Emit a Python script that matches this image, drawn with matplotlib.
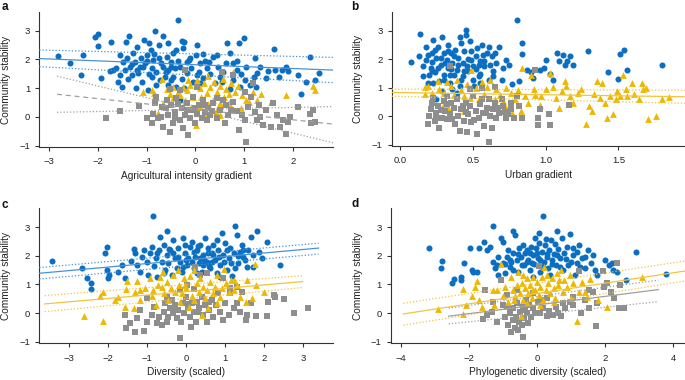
import matplotlib
matplotlib.use("Agg")
import matplotlib.pyplot as plt

plt.rcParams['font.family'] = ['Liberation Sans', 'DejaVu Sans']

BLUE = '#0A6FC2'
YEL = '#EDB900'
GRAY = '#8E8E8E'
BLUE_L = '#4A92D6'
YEL_L = '#F2C440'
GRAY_L = '#A0A0A0'

# ---------------- Panel a: Agricultural intensity gradient ----------------
a_blue = [(-2.83,2.12),(-2.58,1.89),(-2.30,2.15),(-2.35,1.46),(-2.06,2.77),(-1.99,2.88),(-1.99,2.47),(-1.93,1.34),(-1.74,2.62),(-1.43,2.62),
          (-1.36,2.81),(-1.06,2.68),(-0.82,3.00),(-0.66,2.81),(-0.35,3.37),(-0.28,2.65),(-0.23,2.62),(0.03,2.50),(0.66,2.58),(0.90,2.58),
          (1.00,2.73),(1.61,2.35),(2.35,2.10),(2.54,1.52),(2.45,1.28),(2.28,1.23),(2.18,0.80),(2.10,1.46),(1.91,1.61),(1.86,1.75),
          (1.77,1.65),(1.72,1.40),(1.63,1.65),(1.50,1.61),(1.46,1.34),(1.33,1.75),(1.22,2.04),(1.26,1.54),(1.20,1.38),(1.25,1.03),
          (1.12,1.11),(1.02,1.28),(0.92,1.03),(0.85,1.65),(0.78,1.86),(0.72,2.23),(0.64,1.86),(0.57,1.57),(0.54,1.23),(0.47,1.75),
          (0.44,2.15),(0.37,2.10),(0.29,1.92),(0.23,1.69),(0.16,2.19),(0.09,1.86),(0.08,1.57),(0.01,2.15),(-0.08,1.69),(-0.13,1.98),
          (-0.18,1.52),(-0.28,1.31),(-0.32,0.59),(-0.39,1.05),(-0.45,1.40),(-0.56,1.11),(-0.56,1.63),(-0.51,1.92),(-0.45,2.21),(-0.39,2.33),
          (-0.59,2.10),(-0.67,1.75),(-0.73,1.28),(-0.80,1.57),(-0.86,1.98),(-0.92,2.33),(-1.00,2.15),(-1.07,1.75),(-1.10,1.23),(-1.17,1.52),
          (-1.24,1.92),(-1.28,2.21),(-1.34,1.75),(-1.39,1.31),(-1.45,1.63),(-1.48,1.92),(-1.54,1.46),(-1.62,1.69),(-1.69,1.63),(-1.75,1.61),
          (-1.55,2.15),(-1.51,1.03),(-1.21,1.00),(-0.97,0.94),(-0.74,2.50),(-0.56,2.56),(-0.95,2.58),(-0.80,1.11),(-0.32,1.75),(-0.49,1.28),
          (-0.90,1.38),(-1.31,1.46),(-1.14,1.75),(-1.04,1.86),(-0.88,1.69),(-0.70,1.86),(-0.62,1.40),(-0.42,1.69),(-0.18,1.92),(-0.04,1.23),
          (0.03,1.46),(0.16,1.34),(0.31,1.49),(0.40,1.19),(0.50,1.40),(0.71,0.96),(0.78,1.28),(0.93,1.49),(1.05,1.75),(0.86,1.96),
          (0.09,1.17),(-0.23,0.99),(-1.19,2.44),(-1.12,2.04),(-1.41,2.04),(-1.58,1.23),(-1.00,1.95),(-0.75,2.05),(-0.60,1.55),(-1.20,1.65),
          (-0.95,1.50),(-0.35,1.95),(-0.10,2.05),(0.20,1.95),(-1.30,1.85),(-0.85,2.20),(-0.50,1.75),(-0.25,2.40)]
a_yel = [(-1.07,0.88),(-0.90,0.94),(-0.85,0.84),(-0.69,1.31),(-0.59,0.96),(-0.52,0.80),(-0.45,1.05),(-0.35,0.88),(-0.26,1.03),(-0.18,0.94),
         (-0.10,1.11),(-0.04,0.70),(0.04,1.28),(0.09,0.99),(0.18,1.17),(0.23,0.82),(0.30,1.05),(0.38,1.23),(0.45,0.88),(0.50,1.07),
         (0.59,0.70),(0.64,0.96),(0.70,0.80),(0.74,1.17),(0.81,0.88),(0.88,1.07),(0.95,0.76),(1.04,0.59),(1.11,0.53),(1.19,0.88),
         (1.26,0.59),(1.34,0.80),(1.55,0.53),(1.87,0.76),(2.42,1.07),(2.45,0.94),(0.36,0.59),(0.43,0.18),(0.50,0.07),(0.22,0.12),
         (0.01,-0.28),(-0.26,0.38),(-0.59,0.18),(-0.76,0.15),(-0.66,0.47),(0.09,0.36),(0.26,0.45),(0.93,0.30),(0.70,0.50),(-0.21,0.59),
         (-0.08,0.36),(-0.45,0.65),(0.12,0.70),(-0.15,1.28),(0.26,1.42),(0.57,1.31),(0.78,1.57),(-0.32,0.76),(0.50,0.47),(0.78,0.24)]
a_gray = [(-1.84,-0.03),(-1.54,0.21),(-1.15,0.38),(-1.00,-0.05),(-0.90,-0.22),(-0.86,0.12),(-0.83,0.47),(-0.80,0.70),(-0.76,-0.05),(-0.69,0.36),
          (-0.66,-0.34),(-0.59,0.59),(-0.56,0.07),(-0.52,-0.51),(-0.49,0.41),(-0.45,-0.22),(-0.42,0.18),(-0.39,0.65),(-0.32,-0.10),(-0.28,0.30),
          (-0.25,-0.40),(-0.21,0.07),(-0.18,0.47),(-0.15,-0.63),(-0.11,-0.05),(-0.08,0.24),(-0.04,0.70),(-0.01,-0.22),(0.03,0.12),(0.08,0.41),
          (0.13,-0.05),(0.16,0.59),(0.20,0.18),(0.23,-0.10),(0.26,0.30),(0.31,0.07),(0.37,0.47),(0.44,-0.05),(0.50,0.24),(0.56,0.59),
          (0.64,0.41),(0.67,0.07),(0.74,0.24),(0.78,1.46),(0.90,-0.46),(0.95,0.07),(1.02,-0.10),(1.05,-0.86),(1.08,0.36),(1.15,0.70),
          (1.22,0.18),(1.26,-0.10),(1.33,0.01),(1.39,-0.28),(1.46,0.24),(1.55,-0.36),(1.60,0.47),(1.67,0.07),(1.74,-0.34),(1.80,-0.10),
          (1.86,-0.59),(1.91,-0.16),(1.94,0.01),(2.11,0.36),(2.35,0.12),(2.38,-0.22),(2.42,0.24),(2.45,-0.16),(0.54,1.57),(-0.21,1.63),
          (-0.52,0.96),(-0.32,0.94),(0.03,1.05),(1.02,0.88),(1.19,1.17),(0.78,0.53),(-0.18,0.24),(-0.42,-0.05),(0.20,0.41),(-0.70,0.00),
          (-0.60,0.30),(0.00,0.30),(0.35,0.20),(0.60,-0.20),(0.85,0.20),(1.30,0.40),(-0.35,0.45),(0.45,0.65)]
a_fit_x = [-3.205, 2.834]
a_fit_blue = [2.03, 1.63]
a_ci_blue_hi = [2.33, 2.07]
a_ci_blue_lo = [1.75, 1.19]
a_fit_gray_x = [-2.84, 2.834]
a_fit_gray = [0.79, -0.25]
a_ci_gray_1 = [1.42, -0.90]
a_ci_gray_2 = [0.16, 0.36]

# ---------------- Panel b: Urban gradient ----------------
b_blue = [(0.076,1.90),(0.13,2.12),(0.14,2.88),(0.156,1.75),(0.18,2.44),(0.19,2.15),(0.21,1.69),(0.22,2.21),(0.22,1.89),(0.23,2.68),
          (0.24,1.54),(0.25,2.04),(0.26,2.44),(0.27,1.23),(0.28,1.81),(0.29,2.77),(0.30,2.21),(0.30,1.46),(0.32,1.98),(0.33,2.50),
          (0.33,1.69),(0.34,1.17),(0.35,2.21),(0.36,1.86),(0.37,1.46),(0.38,2.33),(0.39,1.63),(0.40,2.04),(0.41,2.79),(0.42,1.28),
          (0.43,1.86),(0.44,2.27),(0.45,2.85),(0.45,3.02),(0.47,1.57),(0.48,2.62),(0.49,1.98),(0.49,2.27),(0.50,1.75),(0.52,2.10),
          (0.53,2.39),(0.54,1.40),(0.55,1.92),(0.56,2.50),(0.57,2.15),(0.58,1.75),(0.60,2.21),(0.61,1.28),(0.62,1.81),(0.63,2.10),
          (0.64,1.57),(0.65,2.21),(0.66,1.86),(0.68,2.44),(0.70,1.28),(0.71,1.69),(0.73,1.98),(0.75,1.81),(0.77,1.11),(0.80,3.37),
          (0.82,1.23),(0.84,2.56),(0.84,2.18),(0.87,1.63),(0.90,1.54),(0.91,1.34),(0.96,1.61),(0.99,1.69),(1.00,1.98),(1.03,1.49),
          (1.05,1.28),(1.08,2.23),(1.09,1.92),(1.12,2.15),(1.13,1.81),(1.15,1.95),(1.17,2.12),(1.19,1.81),(1.29,2.27),(1.43,1.54),
          (1.50,1.31),(1.51,2.19),(1.54,2.33),(1.56,1.61),(1.80,1.81),(0.23,1.17),(0.20,1.46),(0.29,0.88),(0.36,0.94),(0.41,1.05),
          (0.50,1.28),(0.55,1.17),(0.64,1.40),(0.16,1.42),(0.19,1.17),(0.34,1.46),(0.46,1.75),(0.54,1.81),(0.61,2.44),(0.25,0.61),
          (0.39,0.82),(0.55,1.49),(0.30,1.28),(0.42,2.56),(0.51,1.05),(0.18,1.96),(0.24,2.33),(0.28,2.05),(0.35,1.65),(0.40,1.80),
          (0.44,1.60),(0.31,1.85),(0.37,2.10),(0.26,1.70),(0.47,2.00),(0.58,1.95),(0.33,2.30),(0.22,1.60),(0.43,1.40),(0.52,1.65)]
b_yel = [(0.17,1.03),(0.19,1.07),(0.22,0.80),(0.26,1.23),(0.27,0.96),(0.30,0.82),(0.32,1.19),(0.35,1.05),(0.37,0.73),(0.39,1.28),
         (0.42,0.91),(0.44,0.70),(0.46,1.11),(0.48,0.65),(0.49,1.63),(0.52,1.00),(0.54,0.59),(0.56,1.19),(0.58,0.78),(0.60,1.03),
         (0.62,1.28),(0.65,0.59),(0.66,0.94),(0.69,0.73),(0.71,0.53),(0.73,1.00),(0.76,0.82),(0.77,0.12),(0.79,0.59),(0.81,0.91),
         (0.84,1.69),(0.86,0.70),(0.88,0.47),(0.90,1.46),(0.92,0.96),(0.93,0.73),(0.96,0.38),(0.97,0.70),(1.00,0.94),(1.03,1.52),
         (1.05,1.03),(1.07,0.65),(1.09,0.30),(1.11,0.88),(1.13,1.23),(1.14,1.05),(1.17,0.70),(1.19,0.47),(1.22,0.82),(1.24,0.96),
         (1.28,-0.28),(1.30,0.36),(1.32,0.18),(1.33,0.76),(1.35,1.23),(1.37,0.65),(1.39,1.17),(1.41,0.47),(1.42,-0.05),(1.44,0.70),
         (1.46,0.07),(1.48,0.59),(1.49,0.88),(1.51,0.70),(1.53,1.46),(1.55,0.94),(1.56,0.70),(1.59,1.17),(1.61,0.76),(1.64,0.59),
         (1.66,1.17),(1.67,0.94),(1.69,1.00),(1.70,-0.11),(1.76,0.01),(1.80,0.61),(1.85,0.68),(0.17,0.76),(0.30,0.41),(0.33,0.30),
         (0.44,0.18),(0.73,0.30),(0.83,0.18)]
b_gray = [(0.19,-0.28),(0.20,0.01),(0.21,0.24),(0.22,0.47),(0.23,0.65),(0.24,-0.17),(0.25,0.12),(0.26,0.36),(0.27,-0.40),(0.29,-0.05),
          (0.30,0.53),(0.31,0.18),(0.32,-0.11),(0.32,0.41),(0.34,0.07),(0.37,0.30),(0.38,-0.28),(0.39,0.59),(0.40,0.01),(0.41,-0.51),
          (0.42,0.24),(0.44,-0.17),(0.45,0.47),(0.46,-0.57),(0.47,0.07),(0.48,0.36),(0.49,-0.22),(0.50,0.70),(0.52,0.18),(0.53,-0.63),
          (0.54,-0.05),(0.55,0.41),(0.56,1.00),(0.57,0.12),(0.58,-0.34),(0.60,0.30),(0.61,0.59),(0.61,-0.90),(0.62,0.01),(0.63,-0.40),
          (0.64,0.24),(0.65,0.47),(0.66,-0.05),(0.68,0.12),(0.70,0.59),(0.71,0.36),(0.73,-0.05),(0.74,0.07),(0.76,0.24),(0.78,-0.05),
          (0.80,0.70),(0.82,0.36),(0.84,-0.05),(0.93,1.61),(0.95,-0.05),(0.96,0.26),(1.02,0.07),(1.03,-0.32),(1.16,0.38),(0.95,-0.32),
          (0.34,1.75),(0.32,0.70),(0.56,0.59),(0.65,1.03),(0.76,0.47),(0.48,0.94),(0.28,0.20),(0.36,-0.10),(0.43,0.35),(0.51,-0.15),
          (0.59,0.10),(0.67,0.30),(0.72,0.15),(0.25,-0.05),(0.45,0.15),(0.35,0.45)]
b_fit_x = [-0.057, 1.957]
b_fit_yel = [0.83, 0.68]
b_ci_yel_hi = [0.95, 0.91]
b_ci_yel_lo = [0.70, 0.45]

# ---------------- Panel c: Diversity (scaled) ----------------
c_blue = [(-3.45,1.83),(-2.68,1.57),(-2.54,1.22),(-2.45,1.06),(-2.45,0.83),(-2.08,2.11),(-2.02,2.30),(-2.04,1.51),(-1.98,1.33),(-2.00,1.22),
          (-1.74,1.45),(-1.65,1.68),(-1.57,1.22),(-1.42,1.83),(-1.35,2.23),(-1.31,2.09),(-1.27,1.68),(-1.18,1.45),(-1.14,1.97),(-1.08,2.21),
          (-1.01,1.80),(-0.97,1.33),(-0.93,2.09),(-0.88,2.30),(-0.86,3.40),(-0.82,1.64),(-0.77,1.92),(-0.74,1.26),(-0.69,2.21),(-0.67,2.65),
          (-0.63,1.80),(-0.58,2.38),(-0.54,1.51),(-0.50,2.03),(-0.48,2.88),(-0.46,1.74),(-0.41,2.21),(-0.37,1.33),(-0.33,2.56),(-0.28,1.92),
          (-0.24,1.57),(-0.20,2.27),(-0.16,1.80),(-0.11,1.45),(-0.09,2.62),(-0.03,2.09),(0.02,1.68),(0.06,1.92),(0.10,2.32),(0.14,2.50),
          (0.19,1.57),(0.23,1.97),(0.27,2.21),(0.32,1.74),(0.36,2.38),(0.40,1.45),(0.44,2.03),(0.49,2.62),(0.53,1.80),(0.57,2.27),
          (0.62,1.57),(0.66,2.09),(0.70,2.38),(0.75,1.86),(0.79,1.39),(0.83,2.21),(0.87,1.68),(0.92,2.79),(0.96,2.03),(1.00,2.44),
          (1.04,1.51),(1.09,1.92),(1.13,2.27),(1.17,1.29),(1.22,2.09),(1.26,3.05),(1.30,2.73),(1.34,1.74),(1.39,2.15),(1.43,2.38),
          (1.47,1.97),(1.56,1.62),(1.60,2.21),(1.66,2.65),(1.73,2.03),(1.81,2.85),(1.86,2.15),(1.94,1.92),(2.07,2.50),(2.40,1.68),
          (1.51,1.86),(1.34,2.00),(0.98,1.80),(0.44,1.68),(0.14,1.80),(-0.33,2.09),(-0.76,2.09),(-0.58,1.39),(0.27,1.39),(0.87,1.27),
          (0.66,1.80),(-0.07,1.62),(0.36,1.92),(0.70,2.03),(1.04,2.21),(1.26,1.57),(1.73,1.62),(0.79,2.56),(-0.03,2.38),(0.55,2.10),
          (0.20,2.15),(-0.20,1.95),(0.85,1.95),(1.15,1.75),(0.45,1.85),(-0.45,2.25),(0.00,1.85),(0.60,1.65),(1.45,2.20),(0.30,2.35)]
c_yel = [(-2.62,-0.10),(-2.13,-0.28),(-2.21,0.60),(-2.13,0.75),(-1.83,0.46),(-1.74,0.57),(-1.57,0.22),(-1.54,0.83),(-1.53,1.13),(-1.35,0.16),
         (-1.31,0.75),(-1.27,1.13),(-1.18,0.46),(-1.05,0.87),(-0.94,1.22),(-0.88,0.60),(-0.77,0.28),(-0.71,0.98),(-0.67,1.27),(-0.60,1.45),
         (-0.57,0.69),(-0.50,1.10),(-0.46,0.46),(-0.40,0.87),(-0.34,1.33),(-0.28,0.75),(-0.22,1.51),(-0.17,0.98),(-0.11,0.69),(-0.05,1.22),
         (0.01,0.87),(0.07,0.22),(0.10,1.29),(0.14,0.60),(0.20,1.51),(0.27,1.04),(0.32,0.75),(0.36,1.22),(0.40,-0.07),(0.44,0.92),
         (0.49,0.52),(0.53,0.81),(0.57,0.16),(0.62,1.10),(0.68,0.69),(0.75,0.92),(0.80,1.33),(0.87,0.57),(0.92,0.87),(0.98,1.53),
         (1.03,1.06),(1.09,0.75),(1.15,1.15),(1.22,0.81),(1.30,0.98),(1.39,0.55),(1.54,0.40),(1.56,1.17),(1.69,0.52),(1.77,1.72),
         (1.80,0.98),(2.00,0.75),(-1.18,0.81),(-0.85,0.81),(-0.16,0.40),(0.19,0.46),(0.79,0.34),(1.22,1.15),(-0.63,0.92),(-0.03,0.98)]
c_gray = [(-1.57,-0.07),(-1.54,-0.53),(-1.44,-0.36),(-1.31,-0.65),(-1.27,-0.18),(-1.18,0.11),(-1.08,-0.62),(-1.01,-0.30),(-0.88,-0.07),(-0.82,0.22),
          (-0.75,-0.34),(-0.69,-0.13),(-0.63,-0.42),(-0.58,0.05),(-0.54,0.34),(-0.50,-0.30),(-0.46,-0.13),(-0.41,0.17),(-0.37,0.46),(-0.33,-0.01),
          (-0.28,0.28),(-0.24,-0.18),(-0.20,0.11),(-0.16,-0.86),(-0.14,-0.30),(-0.09,0.34),(-0.05,-0.01),(0.01,0.57),(0.04,0.17),(0.09,-0.13),
          (0.12,-0.48),(0.14,0.34),(0.19,0.83),(0.20,0.05),(0.26,-0.30),(0.29,0.40),(0.34,0.17),(0.40,0.57),(0.44,-0.07),(0.49,0.28),
          (0.53,-0.30),(0.60,0.11),(0.66,0.46),(0.70,-0.13),(0.77,0.28),(0.83,0.69),(0.87,0.05),(0.94,-0.24),(1.00,0.34),(1.09,-0.07),
          (1.13,0.69),(1.22,0.17),(1.30,0.34),(1.39,0.05),(1.43,0.75),(1.54,-0.24),(1.56,-0.07),(1.66,0.34),(1.80,-0.10),(2.07,-0.10),
          (2.11,0.40),(2.26,0.63),(2.29,0.55),(2.52,0.48),(2.76,0.01),(3.12,0.17),(0.03,0.98),(0.23,1.62),(0.36,1.33),(0.53,1.39),
          (0.96,1.22),(1.13,0.87),(1.30,0.92),(-0.16,0.81),(-1.01,0.52),(-0.50,0.57),(-0.30,0.10),(0.05,0.30),(0.30,0.05),(0.60,0.40)]
c_fit_blue_x = [-3.77, 3.40]
c_fit_blue = [1.39, 2.27]
c_ci_blue_hi = [1.59, 2.44]
c_ci_blue_lo = [1.19, 2.06]
c_fit_yel_x = [-3.63, 2.99]
c_fit_yel = [0.32, 1.10]
c_ci_yel_hi = [0.61, 1.31]
c_ci_yel_lo = [0.05, 0.89]

# ---------------- Panel d: Phylogenetic diversity (scaled) ----------------
d_blue = [(-3.17,2.29),(-2.83,1.57),(-2.78,1.83),(-2.51,1.06),(-2.44,1.18),(-2.25,1.25),(-2.25,1.16),(-2.15,1.76),(-1.97,2.27),(-1.92,1.51),
          (-1.87,1.45),(-1.78,1.45),(-1.70,2.27),(-1.56,2.50),(-1.48,2.21),(-1.39,2.32),(-1.31,3.05),(-1.29,1.80),(-1.24,1.57),(-1.19,1.68),
          (-1.14,1.97),(-1.07,2.62),(-1.01,2.50),(-0.99,1.76),(-0.94,1.39),(-0.90,1.97),(-0.85,2.21),(-0.80,1.60),(-0.78,1.80),(-0.72,2.85),
          (-0.70,2.09),(-0.65,2.73),(-0.60,1.86),(-0.55,1.45),(-0.52,2.27),(-0.48,1.97),(-0.42,2.38),(-0.39,1.68),(-0.36,2.09),(-0.31,2.21),
          (-0.26,1.86),(-0.21,1.51),(-0.19,2.32),(-0.13,2.03),(-0.09,1.72),(-0.06,2.62),(-0.03,2.27),(0.01,1.92),(0.04,2.79),(0.06,2.46),
          (0.08,1.45),(0.13,2.15),(0.16,3.40),(0.20,1.80),(0.23,2.38),(0.28,1.97),(0.33,1.57),(0.36,2.21),(0.40,2.56),(0.43,1.86),
          (0.48,2.07),(0.53,2.42),(0.55,1.68),(0.59,2.85),(0.62,2.23),(0.67,1.92),(0.72,2.62),(0.75,1.51),(0.79,2.09),(0.87,2.32),
          (0.97,2.77),(0.99,1.80),(1.04,2.03),(1.11,1.33),(1.16,1.74),(1.18,2.15),(1.24,2.38),(1.31,1.92),(1.41,1.57),(1.48,2.21),
          (1.57,1.76),(1.65,2.03),(1.70,1.51),(1.77,1.33),(1.99,1.86),(2.12,1.68),(2.19,1.76),(2.24,1.51),(2.34,1.45),(2.61,1.16),
          (2.91,2.13),(3.79,1.37),(-0.21,2.09),(0.18,1.62),(0.57,2.03),(0.91,1.68),(1.26,1.62),(-0.46,1.68),(-0.80,1.86),(-0.11,1.27),
          (0.08,1.86),(0.38,1.33),(1.06,2.27),(0.67,1.62),(-1.14,1.33),(-0.70,1.51),(-0.30,1.80),(0.30,2.05),(0.00,2.10),(-0.55,2.05),
          (0.85,1.90),(0.45,1.70),(-0.15,1.75),(1.40,1.95),(-0.95,1.70),(0.25,2.60)]
d_yel = [(-2.90,0.14),(-2.17,0.83),(-2.09,0.27),(-2.19,-0.03),(-1.92,0.60),(-1.83,0.92),(-1.76,1.13),(-1.70,0.46),(-1.63,0.22),(-1.31,0.81),
         (-1.27,0.28),(-1.19,0.81),(-1.07,1.72),(-1.01,0.60),(-0.94,0.92),(-0.85,0.40),(-0.78,1.25),(-0.72,0.81),(-0.65,0.60),(-0.60,0.98),
         (-0.55,1.45),(-0.50,0.69),(-0.48,-0.10),(-0.46,1.04),(-0.41,0.46),(-0.36,0.87),(-0.31,1.22),(-0.26,0.69),(-0.21,0.98),(-0.16,0.52),
         (-0.11,1.27),(-0.06,0.81),(-0.01,1.10),(0.04,0.63),(0.08,0.92),(0.13,1.25),(0.18,0.46),(0.20,1.62),(0.26,0.81),(0.33,1.04),
         (0.38,0.69),(0.43,1.22),(0.48,0.87),(0.53,0.52),(0.59,1.39),(0.62,0.98),(0.69,1.51),(0.75,0.75),(0.79,1.16),(0.87,0.92),
         (0.95,1.33),(0.99,0.52),(1.06,1.04),(1.16,-0.27),(1.24,0.75),(1.31,1.10),(1.41,0.75),(1.46,0.57),(1.55,1.18),(1.80,0.46),
         (2.06,0.22),(3.07,1.25),(-0.68,0.46),(-0.31,0.34),(0.08,0.28),(0.48,0.40),(-0.11,0.81),(0.28,1.33),(-0.41,1.33),(0.65,1.15)]
d_gray = [(-1.60,-0.22),(-1.48,-0.07),(-1.53,0.81),(-1.34,0.05),(-1.19,-0.30),(-1.07,1.16),(-1.01,0.28),(-0.94,-0.13),(-0.90,0.22),(-0.85,-0.42),
          (-0.80,-0.01),(-0.78,-0.65),(-0.72,-0.24),(-0.70,0.17),(-0.65,-0.53),(-0.62,-0.13),(-0.58,0.34),(-0.55,-0.59),(-0.52,-0.30),(-0.50,0.05),
          (-0.46,-0.42),(-0.42,0.22),(-0.41,-0.85),(-0.39,-0.18),(-0.33,0.46),(-0.31,-0.01),(-0.26,-0.36),(-0.24,0.28),(-0.19,-0.13),(-0.11,0.17),
          (-0.06,-0.01),(0.01,0.40),(0.06,1.65),(0.08,-0.01),(0.18,0.17),(0.28,-0.10),(0.36,0.08),(0.46,-0.07),(0.55,0.22),(0.62,-0.01),
          (0.69,-0.10),(0.75,0.34),(0.82,0.17),(0.97,0.40),(1.06,0.28),(1.24,1.48),(1.28,-0.01),(1.41,0.46),(1.51,0.81),(1.65,0.75),
          (1.73,-0.45),(1.77,0.34),(1.93,1.47),(1.96,0.92),(2.04,1.04),(2.16,0.75),(2.26,0.52),(2.34,1.76),(2.39,0.17),(2.43,0.98),
          (2.55,0.17),(-0.90,0.63),(-1.29,0.40),(-0.60,0.81),(-0.13,0.69),(0.28,0.52),(1.06,0.57),(1.51,0.17),(-0.35,0.10),(0.15,0.45)]
d_fit_yel_x = [-3.93, 4.34]
d_fit_yel = [-0.03, 1.47]
d_ci_yel_hi = [0.34, 1.82]
d_ci_yel_lo = [-0.42, 1.12]
d_fit_gray_x = [-2.60, 3.56]
d_fit_gray = [-0.11, 0.82]
d_ci_gray_hi = [0.17, 1.15]
d_ci_gray_lo = [-0.38, 0.40]

W, H = 685.0, 380.0
fig = plt.figure(figsize=(6.85, 3.8), dpi=100)


def make_ax(left, bottom, right, top, xlim, ylim, xticks, xticklabels, xlabel, letter, letter_xy, ylab_x):
    ax = fig.add_axes([left / W, 1 - bottom / H, (right - left) / W, (bottom - top) / H])
    ax.set_xlim(*xlim)
    ax.set_ylim(*ylim)
    for s in ('top', 'right'):
        ax.spines[s].set_visible(False)
    for s in ('left', 'bottom'):
        ax.spines[s].set_linewidth(0.8)
        ax.spines[s].set_color('#333333')
    ax.set_yticks([-1, 0, 1, 2, 3])
    ax.set_xticks(xticks)
    ax.set_xticklabels(xticklabels)
    ax.tick_params(axis='both', direction='out', length=3, width=0.8, color='#333333',
                   labelsize=6.8, labelcolor='#222222')
    ax.tick_params(axis='x', pad=4.5)
    ax.tick_params(axis='y', pad=3.5)
    ax.set_facecolor('none')
    cx = (left + right) / 2 / W
    fig.text(cx, 1 - (bottom + 29) / H, xlabel, ha='center', va='center', fontsize=7.3, color='#222222')
    fig.text(ylab_x / W, 1 - (bottom + top) / 2 / H, 'Community stability', rotation=90,
             ha='center', va='center', fontsize=7.3, color='#222222')
    fig.text(letter_xy[0] / W, 1 - letter_xy[1] / H, letter, ha='center', va='center',
             fontsize=8.5, fontweight='bold', color='#111111')
    return ax


def pts(ax, data, color, marker, size, z):
    xs = [p[0] for p in data]
    ys = [p[1] for p in data]
    ax.scatter(xs, ys, s=size, c=color, marker=marker, linewidths=0, zorder=z)


def fitline(ax, xs, ys, color, style, lw=0.9):
    ax.plot(xs, ys, color=color, linestyle=style, linewidth=lw, zorder=5)


DOT = (0, (1, 1.6))
DASH = (0, (4, 3))
SB, SY, SG = 19, 24, 17

# panel a
axa = make_ax(39.3, 147, 333.3, 12, (-3.205, 2.834), (-1.045, 3.65),
              [-3, -2, -1, 0, 1, 2], ['\u22123', '\u22122', '\u22121', '0', '1', '2'],
              'Agricultural intensity gradient', 'a', (5, 7), 6)
pts(axa, a_blue, BLUE, 'o', SB, 2)
pts(axa, a_yel, YEL, '^', SY, 3)
pts(axa, a_gray, GRAY, 's', SG, 3)
fitline(axa, a_fit_x, a_fit_blue, BLUE_L, '-')
fitline(axa, a_fit_x, a_ci_blue_hi, BLUE_L, DOT)
fitline(axa, a_fit_x, a_ci_blue_lo, BLUE_L, DOT)
fitline(axa, a_fit_gray_x, a_fit_gray, GRAY_L, DASH)
fitline(axa, a_fit_gray_x, a_ci_gray_1, GRAY_L, DOT)
fitline(axa, a_fit_gray_x, a_ci_gray_2, GRAY_L, DOT)

# panel b
axb = make_ax(391.7, 146, 685, 12, (-0.057, 1.957), (-1.045, 3.65),
              [0.0, 0.5, 1.0, 1.5], ['0.0', '0.5', '1.0', '1.5'],
              'Urban gradient', 'b', (355, 7), 358)
pts(axb, b_blue, BLUE, 'o', SB, 2)
pts(axb, b_yel, YEL, '^', SY, 3)
pts(axb, b_gray, GRAY, 's', SG, 3)
fitline(axb, b_fit_x, b_fit_yel, YEL_L, '-')
fitline(axb, b_fit_x, b_ci_yel_hi, YEL_L, DOT)
fitline(axb, b_fit_x, b_ci_yel_lo, YEL_L, DOT)

# panel c
axc = make_ax(39.3, 343.3, 333.3, 208.3, (-3.77, 3.78), (-1.056, 3.66),
              [-3, -2, -1, 0, 1, 2, 3], ['\u22123', '\u22122', '\u22121', '0', '1', '2', '3'],
              'Diversity (scaled)', 'c', (5, 205), 6)
pts(axc, c_blue, BLUE, 'o', SB, 2)
pts(axc, c_gray, GRAY, 's', SG, 3)
pts(axc, c_yel, YEL, '^', SY, 3)
fitline(axc, c_fit_blue_x, c_fit_blue, BLUE_L, '-')
fitline(axc, c_fit_blue_x, c_ci_blue_hi, BLUE_L, DOT)
fitline(axc, c_fit_blue_x, c_ci_blue_lo, BLUE_L, DOT)
fitline(axc, c_fit_yel_x, c_fit_yel, YEL_L, '-')
fitline(axc, c_fit_yel_x, c_ci_yel_hi, YEL_L, DOT)
fitline(axc, c_fit_yel_x, c_ci_yel_lo, YEL_L, DOT)

# panel d
axd = make_ax(390.7, 343.3, 685, 208.3, (-4.30, 4.34), (-1.056, 3.66),
              [-4, -2, 0, 2, 4], ['\u22124', '\u22122', '0', '2', '4'],
              'Phylogenetic diversity (scaled)', 'd', (355, 204), 358)
pts(axd, d_blue, BLUE, 'o', SB, 2)
pts(axd, d_gray, GRAY, 's', SG, 3)
pts(axd, d_yel, YEL, '^', SY, 3)
fitline(axd, d_fit_yel_x, d_fit_yel, YEL_L, '-')
fitline(axd, d_fit_yel_x, d_ci_yel_hi, YEL_L, DOT)
fitline(axd, d_fit_yel_x, d_ci_yel_lo, YEL_L, DOT)
fitline(axd, d_fit_gray_x, d_fit_gray, GRAY_L, '-')
fitline(axd, d_fit_gray_x, d_ci_gray_hi, GRAY_L, DOT)
fitline(axd, d_fit_gray_x, d_ci_gray_lo, GRAY_L, DOT)

fig.savefig('out.png', dpi=100)
